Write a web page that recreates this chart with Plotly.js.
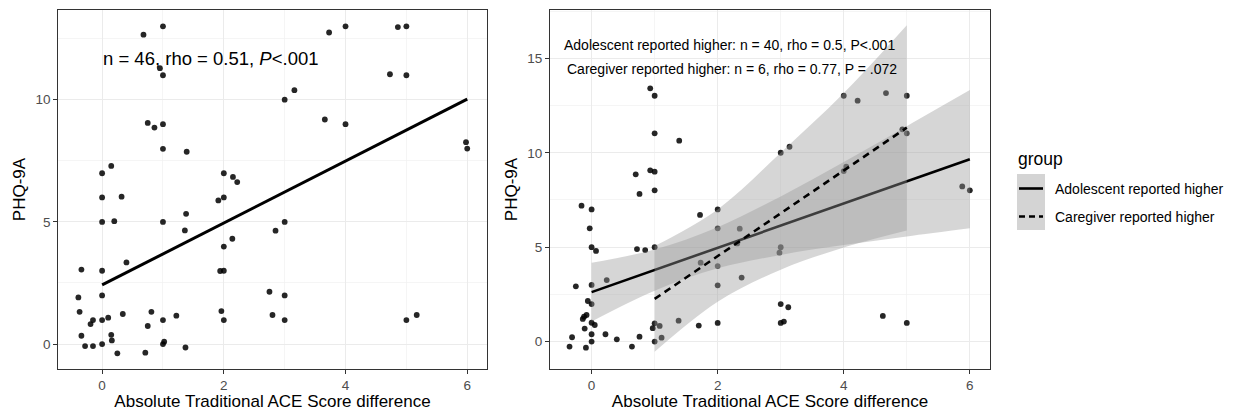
<!DOCTYPE html>
<html>
<head>
<meta charset="utf-8">
<script src="https://cdn.plot.ly/plotly-3.0.1.min.js"></script>
<style>html,body{margin:0;padding:0;background:#fff;}#chart{width:1233px;height:411px;}</style>
</head>
<body>
<div id="chart"></div>
<script>
// ---------- Left panel: all pairs ----------
const leftX = [1.0,0.68,0.95,1.0,0.75,0.86,1.0,1.0,1.39,0.15,0,0,0.32,0,0.2,1,1.38,1.36,0.40,-0.34,0,0,-0.39,-0.37,0,-0.15,-0.19,0.10,0.34,0.81,0.75,1.0,1.22,-0.34,-0.28,-0.15,0,0.15,0.16,0.25,0.71,1.0,1.02,1.37,1.91,2.0,2.0,2.15,2.22,2.14,2.0,1.94,2.0,1.96,2.0,2.85,3.0,2.75,3.0,2.80,3.0,3.0,3.16,3.66,4.0,3.73,4.0,4.86,5.0,4.73,5.0,5.0,5.17,5.98,6.0];
const leftY = [13.0,12.66,11.29,11.0,9.05,8.86,9.0,7.99,7.87,7.29,6.99,6.0,6.03,5.0,5.03,5,5.33,4.65,3.34,3.05,3.0,1.99,1.91,1.32,0.98,0.98,0.82,1.08,1.23,1.32,0.74,0.98,1.16,0.34,-0.08,-0.08,0,0.38,0.15,-0.38,-0.35,0,0.1,-0.14,5.88,6.0,6.99,6.84,6.63,4.31,3.99,2.99,3.0,1.35,0.98,4.64,5.0,2.14,1.99,1.19,0.98,10.0,10.39,9.19,9.0,12.75,13.0,12.97,13.0,11.04,11.0,0.98,1.19,8.26,8.0];
const leftFitX = [0, 6];
const leftFitY = [2.42, 10.02];

// ---------- Right panel: by group ----------
const rightX = [0.93,1.0,1.0,1.39,0.70,0.93,1.0,0.76,1.0,-0.16,0,-0.03,0,0.07,0.72,0.85,1.0,-0.25,0,0.24,-0.06,0,-0.08,-0.12,-0.14,-0.11,0,0.05,0,-0.31,-0.35,-0.09,0,0.22,0.40,0.64,0.76,1.0,0.97,1.08,1.11,1.0,1.38,1.70,1.72,2.0,2.0,1.73,2.0,2.0,2.0,2.35,2.38,2.31,3.0,3.14,4.0,4.22,4.67,5.0,4.93,5.0,4.04,4.0,3.0,2.98,3.0,3.12,3.0,3.05,4.62,5.0,5.88,6.0];
const rightY = [13.41,13.02,11.03,10.64,8.86,9.07,9.0,7.82,8.01,7.2,7.0,6.0,5.0,4.8,4.9,4.85,5.0,2.93,3.0,3.26,2.15,1.99,1.41,1.32,1.2,0.69,1.0,0.88,0.39,0.23,-0.26,-0.32,0,0.39,0.12,-0.26,0.26,0.97,0.71,0.83,0.21,0,1.11,0.85,6.71,7.0,6.0,4.18,4.0,2.98,0.99,5.98,3.39,5.2,10.0,10.32,13.02,12.76,13.16,13.02,11.24,11.03,9.26,9.03,5.0,4.71,1.99,1.82,0.99,1.06,1.36,0.99,8.22,8.01];

const adolFitX = [0, 6];
const adolFitY = [2.62, 9.66];
const adolBandX = [0, 1, 2, 3, 4, 5, 6];
const adolUpper = [4.17, 4.88, 6.06, 7.69, 9.51, 11.41, 13.32];
const adolLower = [1.07, 2.70, 3.88, 4.59, 5.11, 5.57, 6.0];

const careFitX = [1, 5];
const careFitY = [2.26, 11.33];
const careBandX = [1, 2, 3, 4, 5];
const careUpper = [5.06, 7.0, 10.0, 13.16, 16.75];
const careLower = [-0.54, 2.11, 3.81, 4.98, 5.88];

const groupLabels = ["Adolescent reported higher", "Caregiver reported higher"];
const xTitle = "Absolute Traditional ACE Score difference";
const yTitle = "PHQ-9A";

const ribbonFill = "rgba(153,153,153,0.4)";
const pointStyle = {size: 5.8, color: "rgba(0,0,0,0.85)"};

const traces = [
  {x: leftX, y: leftY, xaxis: "x", yaxis: "y", mode: "markers", type: "scatter", marker: pointStyle},
  {x: leftFitX, y: leftFitY, xaxis: "x", yaxis: "y", mode: "lines", type: "scatter", line: {color: "#000", width: 3}},

  {x: rightX, y: rightY, xaxis: "x2", yaxis: "y2", mode: "markers", type: "scatter", marker: pointStyle},
  // adolescent ribbon + line
  {x: adolBandX, y: adolLower, xaxis: "x2", yaxis: "y2", mode: "lines", type: "scatter", line: {width: 0, shape: "spline"}},
  {x: adolBandX, y: adolUpper, xaxis: "x2", yaxis: "y2", mode: "lines", type: "scatter", line: {width: 0, shape: "spline"}, fill: "tonexty", fillcolor: ribbonFill},
  {x: adolFitX, y: adolFitY, xaxis: "x2", yaxis: "y2", mode: "lines", type: "scatter", line: {color: "#000", width: 2.6}},
  // caregiver ribbon + line
  {x: careBandX, y: careLower, xaxis: "x2", yaxis: "y2", mode: "lines", type: "scatter", line: {width: 0, shape: "spline"}},
  {x: careBandX, y: careUpper, xaxis: "x2", yaxis: "y2", mode: "lines", type: "scatter", line: {width: 0, shape: "spline"}, fill: "tonexty", fillcolor: ribbonFill},
  {x: careFitX, y: careFitY, xaxis: "x2", yaxis: "y2", mode: "lines", type: "scatter", line: {color: "#000", width: 2.6, dash: "7px,5px"}}
];

const W = 1233, H = 411;
const px = v => v / W;
const py = v => 1 - v / H;

const fontFam = "Liberation Sans, Arial, Helvetica, sans-serif";
const axisCommon = {
  showline: true, mirror: true, linecolor: "#333333", linewidth: 1,
  ticks: "outside", ticklen: 4, tickcolor: "#333333", tickwidth: 1,
  tickfont: {size: 13.5, color: "#4d4d4d", family: fontFam},
  showgrid: true, gridcolor: "#ebebeb", gridwidth: 1.1,
  zeroline: false, automargin: false, fixedrange: true
};
const minorGrid = {showgrid: true, gridcolor: "#f1f1f1", gridwidth: 0.7, ticks: ""};

const layout = {
  width: W, height: H,
  margin: {l: 0, r: 0, t: 0, b: 0},
  paper_bgcolor: "#fff", plot_bgcolor: "#fff",
  showlegend: false,
  font: {family: fontFam, color: "#000"},
  xaxis: Object.assign({}, axisCommon, {
    domain: [px(58.3), px(486.7)], range: [-0.72, 6.32], anchor: "y",
    tickvals: [0, 2, 4, 6],
    minor: Object.assign({tickvals: [-1, 1, 3, 5]}, minorGrid),
    title: {text: xTitle, font: {size: 17, color: "#000"}, standoff: 8}
  }),
  yaxis: Object.assign({}, axisCommon, {
    domain: [42 / H, 1 - 10 / H], range: [-1.02, 13.67], anchor: "x",
    tickvals: [0, 5, 10],
    minor: Object.assign({tickvals: [2.5, 7.5, 12.5]}, minorGrid),
    title: {text: yTitle, font: {size: 17, color: "#000"}, standoff: 5}
  }),
  xaxis2: Object.assign({}, axisCommon, {
    domain: [px(550), px(990)], range: [-0.66, 6.32], anchor: "y2",
    tickvals: [0, 2, 4, 6],
    minor: Object.assign({tickvals: [-1, 1, 3, 5]}, minorGrid),
    title: {text: xTitle, font: {size: 17, color: "#000"}, standoff: 8}
  }),
  yaxis2: Object.assign({}, axisCommon, {
    domain: [42 / H, 1 - 10 / H], range: [-1.45, 17.56], anchor: "x2",
    tickvals: [0, 5, 10, 15],
    minor: Object.assign({tickvals: [2.5, 7.5, 12.5, 17.5]}, minorGrid),
    title: {text: yTitle, font: {size: 17, color: "#000"}, standoff: 5}
  }),
  annotations: [
    {xref: "x", yref: "y", x: 1.79, y: 11.7, text: "n = 46, rho = 0.51, <i>P</i>&lt;.001", showarrow: false, font: {size: 18.5, color: "#000"}, xanchor: "center", yanchor: "middle"},
    {xref: "x2", yref: "y2", x: 2.18, y: 15.71, text: groupLabels[0] + ": n = 40, rho = 0.5, P&lt;.001", showarrow: false, font: {size: 14, color: "#000"}, xanchor: "center", yanchor: "middle"},
    {xref: "x2", yref: "y2", x: 2.235, y: 14.44, text: groupLabels[1] + ": n = 6, rho = 0.77, P = .072", showarrow: false, font: {size: 14, color: "#000"}, xanchor: "center", yanchor: "middle"},
    // legend texts
    {xref: "paper", yref: "paper", x: px(1016), y: py(159), text: "group", showarrow: false, font: {size: 17.5, color: "#000"}, xanchor: "left", yanchor: "middle"},
    {xref: "paper", yref: "paper", x: px(1053), y: py(189), text: groupLabels[0], showarrow: false, font: {size: 14, color: "#000"}, xanchor: "left", yanchor: "middle"},
    {xref: "paper", yref: "paper", x: px(1053), y: py(217), text: groupLabels[1], showarrow: false, font: {size: 14, color: "#000"}, xanchor: "left", yanchor: "middle"}
  ],
  shapes: [
    {type: "rect", xref: "paper", yref: "paper", x0: px(1017), x1: px(1045), y0: py(174), y1: py(202), fillcolor: "#d4d4d4", line: {width: 0}},
    {type: "rect", xref: "paper", yref: "paper", x0: px(1017), x1: px(1045), y0: py(202), y1: py(230), fillcolor: "#d4d4d4", line: {width: 0}},
    {type: "line", xref: "paper", yref: "paper", x0: px(1019), x1: px(1043), y0: py(188.5), y1: py(188.5), line: {color: "#000", width: 2.6}},
    {type: "line", xref: "paper", yref: "paper", x0: px(1019), x1: px(1043), y0: py(216.5), y1: py(216.5), line: {color: "#000", width: 2.6, dash: "6px,4px"}}
  ]
};

Plotly.newPlot("chart", traces, layout, {displayModeBar: false, staticPlot: true});
</script>
</body>
</html>
